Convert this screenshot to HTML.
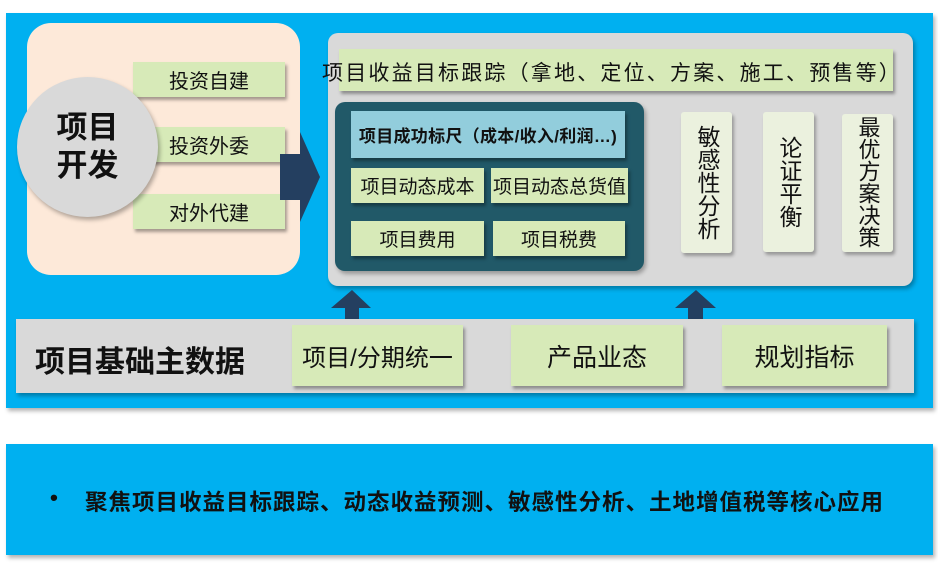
<!DOCTYPE html>
<html><head><meta charset="utf-8"><style>
*{margin:0;padding:0;box-sizing:border-box}
body{width:938px;height:569px;background:#fff;position:relative;overflow:hidden;font-family:"Liberation Sans","Noto Sans CJK SC",sans-serif;color:#111}
.a{position:absolute}
.g{position:absolute;background:#d7eab8;box-shadow:2px 3px 3px rgba(0,0,0,.35);display:flex;align-items:center;justify-content:center;white-space:nowrap}
.v{position:absolute;background:#ebf1de;box-shadow:2px 3px 3px rgba(0,0,0,.3);border-radius:3px;display:flex;justify-content:center;font-size:23px;line-height:23px;writing-mode:vertical-rl;align-items:center;white-space:nowrap}
</style></head><body>
<div class="a" style="left:6px;top:13px;width:927px;height:395px;background:#00b0f0;box-shadow:2px 3px 4px rgba(0,0,0,.3)"></div>
<div class="a" style="left:6px;top:444px;width:927px;height:111px;background:#00b0f0;box-shadow:2px 3px 4px rgba(0,0,0,.3)"></div>
<!-- left peach -->
<div class="a" style="left:27px;top:23px;width:273px;height:252px;background:#fde9d9;border-radius:24px"></div>
<div class="g" style="left:133px;top:62px;width:152px;height:35px;font-size:20px">投资自建</div>
<div class="g" style="left:133px;top:127px;width:152px;height:35px;font-size:20px">投资外委</div>
<div class="g" style="left:133px;top:194px;width:152px;height:35px;font-size:20px">对外代建</div>
<div class="a" style="left:17px;top:77px;width:141px;height:140px;border-radius:50%;background:#d9d9d9;box-shadow:2px 3px 4px rgba(0,0,0,.3);display:flex;align-items:center;justify-content:center;text-align:center;font-weight:bold;font-size:31px;line-height:38px">项目<br>开发</div>
<svg class="a" style="left:0;top:0" width="938" height="569">
<polygon points="280,154 300,154 300,132 320,177 300,222 300,200 280,200" fill="#243f60"/>
<polygon points="645,176 660,176 660,168 671,183 660,198 660,190 645,190" fill="#243f60"/>
<polygon points="734,176 749,176 749,168 760,183 749,198 749,190 734,190" fill="#243f60"/>
<polygon points="816,176 831,176 831,168 842,183 831,198 831,190 816,190" fill="#243f60"/>
</svg>
<!-- right gray -->
<div class="a" style="left:328px;top:33px;width:585px;height:253px;background:#d9d9d9;border-radius:10px;box-shadow:2px 3px 4px rgba(0,0,0,.3)"></div>
<div class="g" style="left:339px;top:49px;width:554px;height:42px"></div>
<div class="a" style="left:322px;top:57px;font-size:21px;letter-spacing:2.2px;white-space:nowrap">项目收益目标跟踪（拿地、定位、方案、施工、预售等）</div>
<div class="a" style="left:335px;top:102px;width:309px;height:169px;background:#215968;border-radius:10px;box-shadow:2px 3px 4px rgba(0,0,0,.3)"></div>
<div class="g" style="left:351px;top:111px;width:274px;height:47px;background:#92cddc;font-weight:bold;font-size:17px;letter-spacing:.3px">项目成功标尺（成本/收入/利润…)</div>
<div class="g" style="left:351px;top:168px;width:133px;height:35px;font-size:19px">项目动态成本</div>
<div class="g" style="left:491px;top:168px;width:137px;height:35px;font-size:19px">项目动态总货值</div>
<div class="g" style="left:351px;top:221px;width:133px;height:35px;font-size:19px">项目费用</div>
<div class="g" style="left:493px;top:221px;width:132px;height:35px;font-size:19px">项目税费</div>
<div class="v" style="left:681px;top:112px;width:51px;height:141px">敏感性分析</div>
<div class="v" style="left:763px;top:112px;width:51px;height:140px">论证平衡</div>
<div class="v" style="left:842px;top:114px;width:51px;height:138px;font-size:22px;line-height:22px;justify-content:flex-start;padding-top:2px">最优方案决策</div>
<!-- up arrows -->
<svg class="a" style="left:0;top:0" width="938" height="569">
<polygon points="345,326 345,308 331,308 352,290 371,308 359,308 359,326" fill="#243f60"/>
<polygon points="688,326 688,308 675,308 696,290 716,308 703,308 703,326" fill="#243f60"/>
</svg>
<div class="a" style="left:16px;top:319px;width:898px;height:74px;background:#d9d9d9;box-shadow:2px 3px 4px rgba(0,0,0,.3)"></div>
<div class="a" style="left:35px;top:337px;font-size:30px;font-weight:bold;white-space:nowrap">项目基础主数据</div>
<div class="g" style="left:292px;top:325px;width:171px;height:61px;font-size:24px">项目/分期统一</div>
<div class="g" style="left:511px;top:325px;width:172px;height:61px;font-size:25px">产品业态</div>
<div class="g" style="left:722px;top:325px;width:165px;height:61px;font-size:25px">规划指标</div>
<div class="a" style="left:50px;top:485px;font-size:22.5px;font-weight:bold;white-space:nowrap">•</div>
<div class="a" style="left:85px;top:485px;font-size:22.5px;letter-spacing:1px;font-weight:bold;white-space:nowrap">聚焦项目收益目标跟踪、动态收益预测、敏感性分析、土地增值税等核心应用</div>
</body></html>
